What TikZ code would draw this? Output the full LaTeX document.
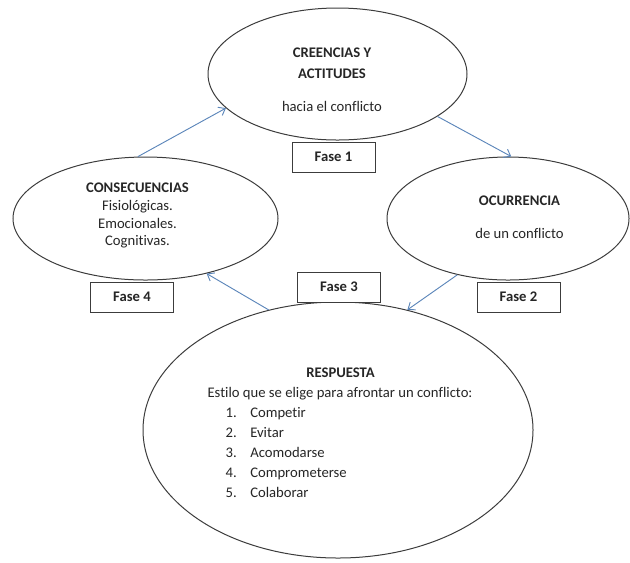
\documentclass[tikz,border=0pt]{standalone}
\usepackage{fontspec}
\setmainfont[Ligatures=NoCommon]{Carlito}
\usetikzlibrary{shapes.geometric,arrows.meta}
\definecolor{inkgray}{RGB}{38,38,38}
\definecolor{linegray}{RGB}{60,60,60}
\definecolor{flowblue}{RGB}{92,134,186}
\tikzset{
  phase/.style={ellipse, draw=linegray, line width=0.75pt, inner sep=0pt},
  lbl/.style={anchor=base, inner sep=0pt, text=inkgray, font=\fontsize{11}{13}\selectfont},
  head/.style={lbl, font=\fontsize{11}{13}\selectfont\bfseries},
  fasebox/.style={draw=linegray, line width=0.6pt, fill=white, minimum width=62.25pt,
    minimum height=22.5pt, inner sep=0pt, text=inkgray, font=\fontsize{11}{13}\selectfont\bfseries},
  flow/.style={draw=flowblue, line width=0.7pt, -{Straight Barb[length=4.5pt,width=7pt]}}
}
\begin{document}
\begin{tikzpicture}[x=0.75pt,y=-0.75pt]
\useasboundingbox (0,0) rectangle (630,562);

% the four phase ellipses
\node[phase, minimum width=194.25pt, minimum height=99pt] (creencias) at (337.5,74) {};
\node[phase, minimum width=198.75pt, minimum height=92.25pt] (consec) at (145.5,218.5) {};
\node[phase, minimum width=181.5pt, minimum height=92.25pt] (ocurr) at (508,218.5) {};
\node[phase, minimum width=292.5pt, minimum height=192pt] (resp) at (338,430) {};

% texts of phase 1
\node[head] (t1a) at (332,57) {CREENCIAS Y};
\node[head] (t1b) at (332,78) {ACTITUDES};
\node[lbl]  (t1c) at (332,111) {hacia el conflicto};

% texts of phase 4
\node[head] (t4a) at (137.5,192) {CONSECUENCIAS};
\node[lbl]  (t4b) at (137.5,210) {Fisiológicas.};
\node[lbl]  (t4c) at (137.5,228) {Emocionales.};
\node[lbl]  (t4d) at (137.5,245) {Cognitivas.};

% texts of phase 2
\node[head] (t2a) at (519.5,205) {OCURRENCIA};
\node[lbl]  (t2b) at (519.5,238) {de un conflicto};

% texts of phase 3
\node[head] (t3a) at (340.5,377) {RESPUESTA};
\node[lbl]  (t3b) at (340,397) {Estilo que se elige para afrontar un conflicto:};
\foreach \n/\item [count=\i] in {1/Competir,2/Evitar,3/Acomodarse,4/Comprometerse,5/Colaborar}{
  \node[lbl, anchor=base east] (num\i) at (237,397+20*\i) {\n.};
  \node[lbl, anchor=base west] (item\i) at (250,397+20*\i) {\item};
}

% phase labels
\node[fasebox] (f1) at (333.5,157) {Fase 1};
\node[fasebox] (f2) at (518.5,297) {Fase 2};
\node[fasebox] (f3) at (339,287) {Fase 3};
\node[fasebox] (f4) at (132,297) {Fase 4};

% cycle connectors
\draw[flow] (consec.97) -- (creencias.197);
\draw[flow] (creencias.337) -- (ocurr.87);
\draw[flow] (ocurr.228) -- (resp.60);
\draw[flow] (resp.120.5) -- (consec.318);
\end{tikzpicture}
\end{document}
